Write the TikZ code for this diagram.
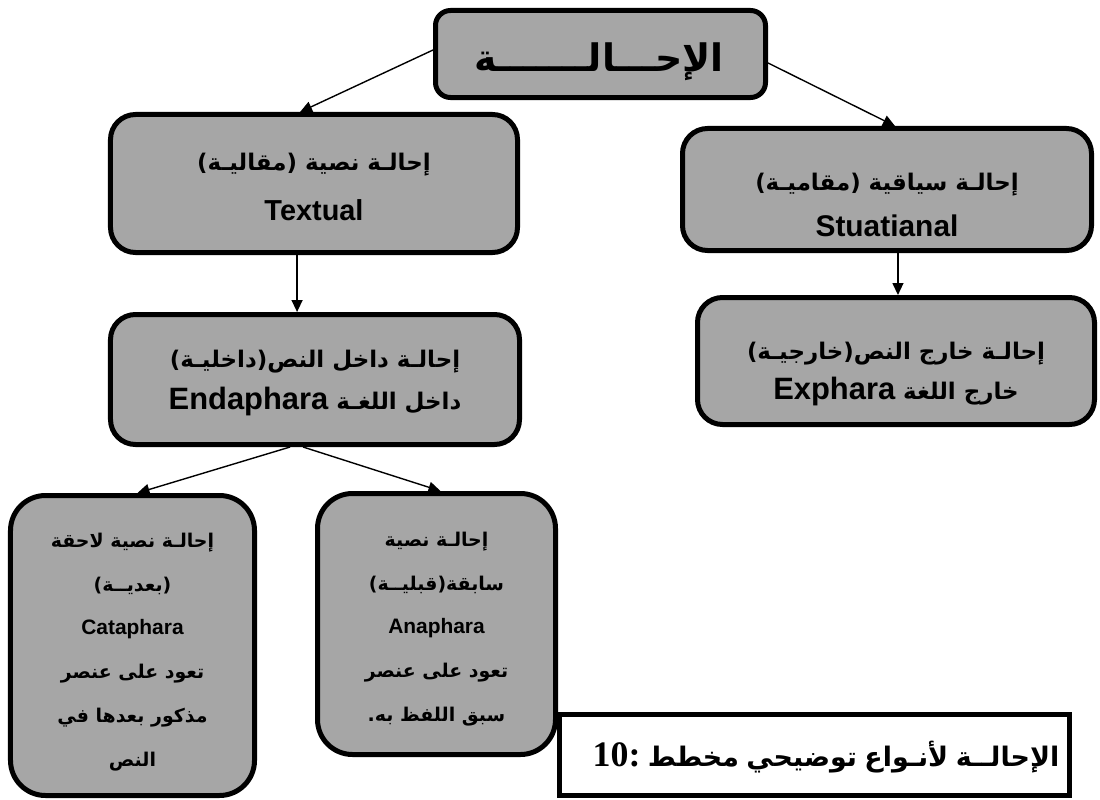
\documentclass[tikz,border=0pt]{standalone}
\usepackage{fontspec}
\setmainfont{Liberation Sans}
\newfontfamily\arabfont[Script=Arabic]{DejaVu Sans}
\newfontfamily\serifnum{Liberation Serif}
\TeXXeTstate=1
\usetikzlibrary{arrows.meta}
\definecolor{boxgray}{RGB}{166,166,166}
% Arabic run, right to left, bold
\newcommand\artxt[1]{{\arabfont\bfseries\beginR #1\endR}}
% Latin word set inside an Arabic line
\newcommand\lattxt[1]{{\rmfamily\bfseries\beginL #1\endL}}

\begin{document}
\begin{tikzpicture}[x=1bp,y=-1bp,
  box/.style={draw=black, line width=5bp, fill=boxgray, inner sep=0pt, rounded corners=25bp},
  txt/.style={align=center, inner sep=0pt},
  arr/.style={line width=1.4bp, -{Triangle[length=12bp,width=11bp]}},
  capbox/.style={draw=black, line width=5bp, fill=white, inner sep=0pt}]
\useasboundingbox (0,0) rectangle (1100,800);

% boxes
\node[box, rounded corners=15bp, minimum width=330bp, minimum height=87bp] (top) at (600.5,54) {};
\node[box, minimum width=407bp, minimum height=138bp] (left) at (314,183.5) {};
\node[box, minimum width=409bp, minimum height=122bp] (right) at (887,189.5) {};
\node[box, minimum width=409bp, minimum height=130bp] (mid) at (315,379.5) {};
\node[box, minimum width=397bp, minimum height=127bp] (exph) at (896,361) {};
\node[box, rounded corners=35bp, minimum width=244bp, minimum height=300bp] (cata) at (132.5,645.5) {};
\node[box, rounded corners=35bp, minimum width=238bp, minimum height=261bp] (ana) at (436.5,624) {};
\node[capbox, minimum width=510bp, minimum height=81bp] (cap) at (814.5,755) {};

% texts
\node[txt, font=\fontsize{38}{44}\selectfont] (topT) at (599,62) {\artxt{الإحـــالـــــــة}};
\node[txt, font=\fontsize{23}{50}\selectfont] (leftT) at (314,187) {\artxt{إحالـة نصية (مقاليـة)}\\{\fontsize{29}{50}\selectfont\bfseries Textual}};
\node[txt, font=\fontsize{23}{46}\selectfont] (rightT) at (887,205) {\artxt{إحالـة سياقية (مقاميـة)}\\{\fontsize{30}{46}\selectfont\bfseries Stuatianal}};
\node[txt, font=\fontsize{23}{42}\selectfont] (midT) at (315,383) {\artxt{إحالـة داخل النص(داخليـة)}\\{\arabfont\bfseries\beginR داخل اللغـة \lattxt{\fontsize{31}{42}\selectfont Endaphara}\endR}};
\node[txt, font=\fontsize{23}{40}\selectfont] (exphT) at (896,374) {\artxt{إحالـة خارج النص(خارجيـة)}\\{\arabfont\bfseries\beginR خارج اللغة \lattxt{\fontsize{31}{40}\selectfont Exphara}\endR}};
\node[txt, font=\fontsize{19}{44}\selectfont] (cataT) at (132.5,652) {\artxt{إحالـة نصية لاحقة}\\\artxt{(بعديــة)}\\{\fontsize{21}{44}\selectfont\bfseries Cataphara}\\\artxt{تعود على عنصر}\\\artxt{مذكور بعدها في}\\\artxt{النص}};
\node[txt, font=\fontsize{19}{44}\selectfont] (anaT) at (436.5,629) {\artxt{إحالـة نصية}\\\artxt{سابقة(قبليــة)}\\{\fontsize{21}{44}\selectfont\bfseries Anaphara}\\\artxt{تعود على عنصر}\\\artxt{سبق اللفظ به.}};
\node[txt, font=\fontsize{27}{34}\selectfont] (capT) at (826,757) {{\serifnum\bfseries\fontsize{36}{36}\selectfont 10:}\ \artxt{مخطط}\ \artxt{توضيحي}\ \artxt{لأنـواع}\ \artxt{الإحالــة}};

% connectors
\draw[arr] ([yshift=4pt]top.west) -- ([xshift=-14pt]left.north);
\draw[arr] ([yshift=-9pt]top.east) -- ([xshift=8pt]right.north);
\draw[arr] ([xshift=-17pt]left.south) -- ([xshift=-17pt]left.south |- mid.north);
\draw[arr] ([xshift=11pt]right.south) -- ([xshift=11pt]right.south |- exph.north);
\draw[arr] ([xshift=-25pt]mid.south) -- ([xshift=5pt]cata.north);
\draw[arr] ([xshift=-12pt]mid.south) -- ([xshift=4pt]ana.north);
\end{tikzpicture}
\end{document}
